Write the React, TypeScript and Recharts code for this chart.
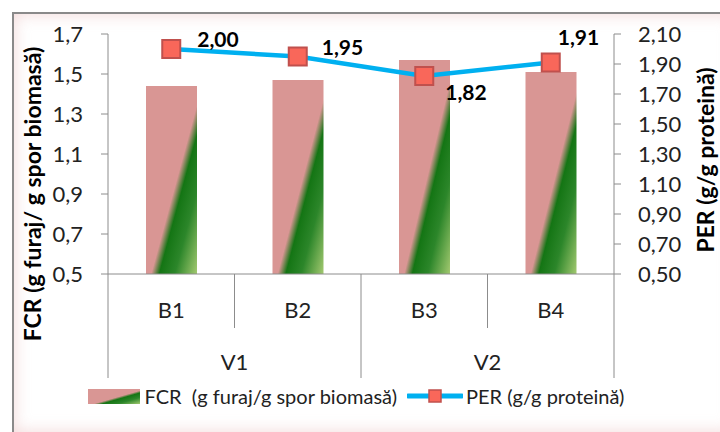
import React from "react";
import {
  ComposedChart, Bar, Line, XAxis, YAxis, Legend, LabelList,
} from "recharts";

const FONT = "Lato, 'Open Sans', sans-serif";
const AXIS_GREY = "#8c8c8c";

// Feed conversion and protein efficiency per batch
const categories = ["B1", "B2", "B3", "B4"];
const groups = ["V1", "V1", "V2", "V2"];
const fcrValues = [1.44, 1.47, 1.57, 1.51];
const perValues = [2.0, 1.95, 1.82, 1.91];

const fcrTicks = [0.5, 0.7, 0.9, 1.1, 1.3, 1.5, 1.7];
const perTicks = [0.5, 0.7, 0.9, 1.1, 1.3, 1.5, 1.7, 1.9, 2.1];

const FCR_NAME = "FCR  (g furaj/g spor biomasă)";
const PER_NAME = "PER (g/g proteină)";

const data = categories.map((c, i) => ({
  name: c, group: groups[i], fcr: fcrValues[i], per: perValues[i],
}));

const comma = (v: number, d: number) => v.toFixed(d).replace(".", ",");

// label offsets (dx from marker centre to text start, dy to text middle)
const LABEL_POS = [
  { dx: 26, dy: -9 },
  { dx: 24, dy: -9 },
  { dx: 21, dy: 17 },
  { dx: 7, dy: -25 },
];

function PerLabel(props: any) {
  const { x, y, value, index } = props;
  const p = LABEL_POS[index] ?? { dx: 20, dy: -10 };
  return (
    <text
      x={x + p.dx} y={y + p.dy} dy="0.35em"
      fontFamily={FONT} fontSize={21} fontWeight={700} fill="#000"
    >
      {comma(value, 2)}
    </text>
  );
}

function SquareDot(props: any) {
  const { cx, cy } = props;
  if (cx == null || cy == null) return null;
  return (
    <rect x={cx - 9} y={cy - 9} width={18} height={18}
      fill="#f9675a" stroke="#c0504d" strokeWidth={2} />
  );
}

// two-level category axis: batch on top, variant below, with Excel-style dividers
function CategoryTick(props: any) {
  const { x, y, payload, index } = props;
  const half = payload?.offset || 63;
  const i = index as number;
  const startsGroup = i === 0 || groups[i - 1] !== groups[i];
  const last = i === categories.length - 1;
  return (
    <g>
      <text x={x} y={y + 36} dy="0.35em" textAnchor="middle"
        fontFamily={FONT} fontSize={22} fill="#222">
        {payload.value}
      </text>
      <line x1={x - half} x2={x - half} y1={y} y2={y + (startsGroup ? 104 : 54)}
        stroke={AXIS_GREY} strokeWidth={1} />
      {last && (
        <line x1={x + half} x2={x + half} y1={y} y2={y + 104}
          stroke={AXIS_GREY} strokeWidth={1} />
      )}
      {startsGroup && (
        <text x={x + half} y={y + 88} dy="0.35em" textAnchor="middle"
          fontFamily={FONT} fontSize={22} fill="#222">
          {groups[i]}
        </text>
      )}
    </g>
  );
}

function LegendContent() {
  return (
    <div style={{
      display: "flex", justifyContent: "center", alignItems: "center",
      fontFamily: FONT, fontSize: 20, color: "#222", whiteSpace: "pre",
      paddingRight: 8,
    }}>
      <svg width={52} height={15} style={{ marginRight: 5 }}>
        <rect x={0} y={0} width={52} height={15} fill="url(#fcrFill)" />
      </svg>
      <span>{FCR_NAME}</span>
      <svg width={56} height={14} style={{ margin: "0 3px 0 10px" }}>
        <line x1={1} x2={55} y1={7} y2={7} stroke="#00b0f0" strokeWidth={5} strokeLinecap="round" />
        <rect x={22} y={1} width={12} height={12} fill="#f9675a" stroke="#c0504d" strokeWidth={1.5} />
      </svg>
      <span>{PER_NAME}</span>
    </div>
  );
}

function AxisTitle({ cx, cy, text }: { cx: number; cy: number; text: string }) {
  return (
    <text x={cx} y={cy} transform={`rotate(-90 ${cx} ${cy})`} textAnchor="middle"
      dy="0.35em" fontFamily={FONT} fontSize={23} fontWeight={700} fill="#000">
      {text}
    </text>
  );
}

export default function App() {
  return (
    <div style={{
      position: "absolute", left: 0, top: 0, width: 720, height: 432,
      overflow: "hidden", background: "#fff",
    }}>
      <div style={{
        position: "absolute", left: 12, top: 12, width: 720, height: 418,
        border: "2px solid #8a8a8a", background: "#fff",
        boxShadow: "inset 0 0 16px rgba(226,170,170,0.45)",
      }} />
      <div style={{ position: "absolute", left: 0, top: 0 }}>
        <ComposedChart width={720} height={432} data={data}
          margin={{ top: 34, right: 0, bottom: 54, left: 0 }}>
          <defs>
            <linearGradient id="fcrFill" x1="0" y1="0" x2="1" y2="1">
              <stop offset="0" stopColor="#d99694" />
              <stop offset="0.55" stopColor="#d99694" />
              <stop offset="0.63" stopColor="#147514" />
              <stop offset="0.78" stopColor="#2c862a" />
              <stop offset="1" stopColor="#a3c970" />
            </linearGradient>
          </defs>
          <XAxis dataKey="name" xAxisId="cat" height={104}
            axisLine={{ stroke: AXIS_GREY }} tickLine={false}
            tickSize={0} tickMargin={0} interval={0} tick={<CategoryTick />} />
          <YAxis yAxisId="fcr" orientation="left" width={108}
            domain={[0.5, 1.7]} ticks={fcrTicks} interval={0}
            axisLine={{ stroke: AXIS_GREY }} tickLine={{ stroke: AXIS_GREY }}
            tickSize={7} tickMargin={18}
            tick={{ fontFamily: FONT, fontSize: 22, fill: "#222" }}
            tickFormatter={(v: number) => comma(v, 1)}
            label={() => <AxisTitle cx={33} cy={194} text="FCR (g furaj/ g spor biomasă)" />} />
          <YAxis yAxisId="per" orientation="right" width={106}
            domain={[0.5, 2.1]} ticks={perTicks} interval={0}
            axisLine={{ stroke: AXIS_GREY }} tickLine={{ stroke: AXIS_GREY }}
            tickSize={7} tickMargin={17}
            tick={{ fontFamily: FONT, fontSize: 22, fill: "#222", textAnchor: "start" }}
            tickFormatter={(v: number) => comma(v, 2)}
            label={() => <AxisTitle cx={706} cy={160} text="PER (g/g proteină)" />} />
          <Bar dataKey="fcr" name={FCR_NAME} xAxisId="cat" yAxisId="fcr"
            barSize={51} fill="url(#fcrFill)" isAnimationActive={false} />
          <Line dataKey="per" name={PER_NAME} xAxisId="cat" yAxisId="per"
            type="linear" stroke="#00b0f0" strokeWidth={4.5}
            dot={<SquareDot />} activeDot={false} isAnimationActive={false}>
            <LabelList dataKey="per" content={<PerLabel />} />
          </Line>
          <Legend layout="horizontal" verticalAlign="middle" align="center"
            content={<LegendContent />}
            wrapperStyle={{ top: 384, left: 0, width: 720 }} />
        </ComposedChart>
      </div>
    </div>
  );
}
